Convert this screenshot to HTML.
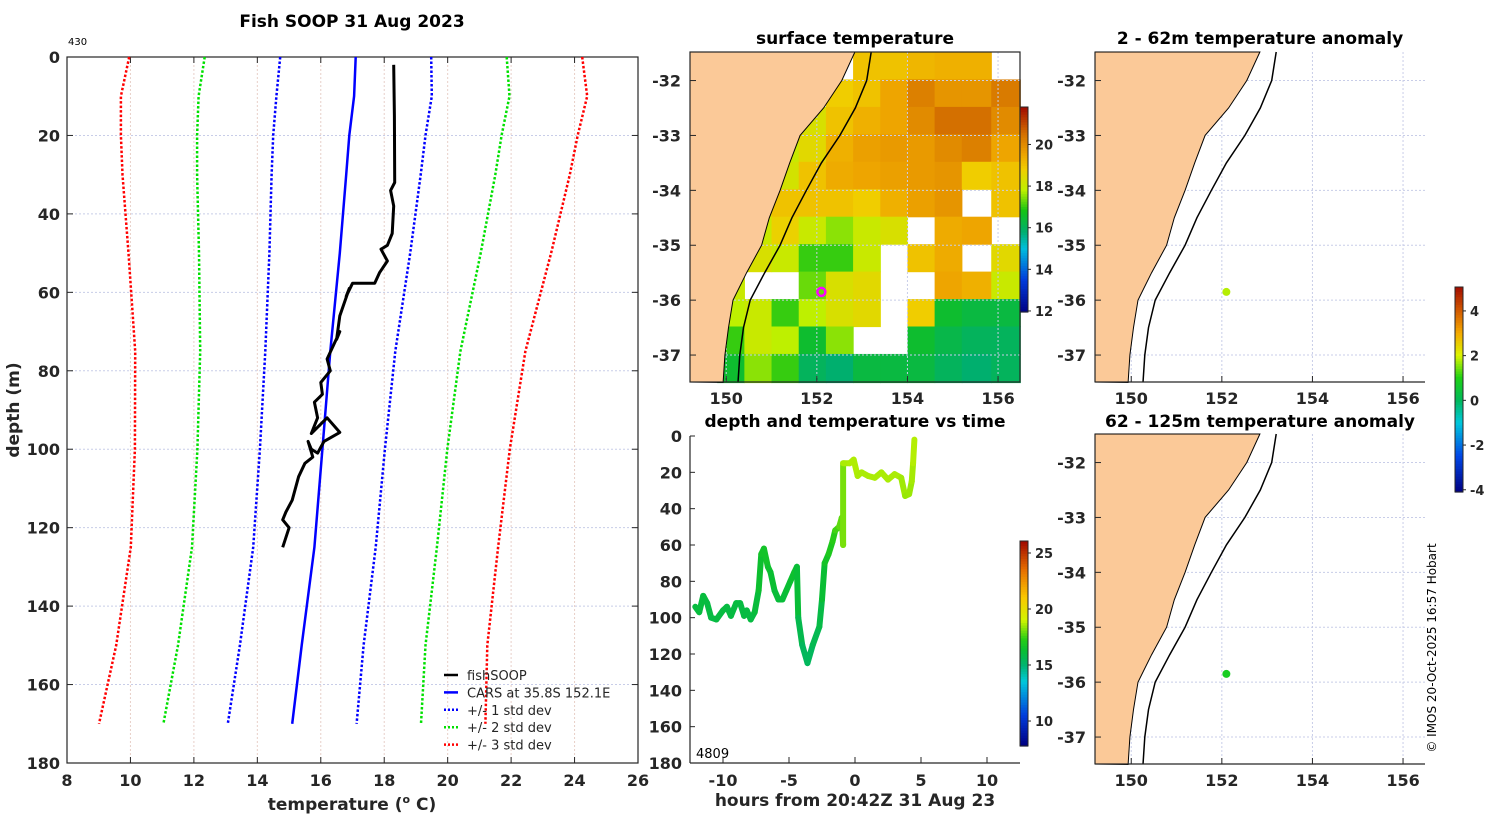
<!DOCTYPE html>
<html><head><meta charset="utf-8"><style>
html,body{margin:0;padding:0;background:#fff;}
svg{display:block;font-family:"DejaVu Sans","Liberation Sans",sans-serif;}
.t{font-weight:bold;fill:#262626;}
</style></head><body>
<svg id="fig" width="1500" height="820" viewBox="0 0 1500 820" xmlns="http://www.w3.org/2000/svg">
<text x="352" y="27" text-anchor="middle" font-size="17" font-weight="bold">Fish SOOP 31 Aug 2023</text>
<text x="68" y="45" font-size="10">430</text>
<text x="855" y="44" text-anchor="middle" font-size="17" font-weight="bold">surface temperature</text>
<text x="855" y="427" text-anchor="middle" font-size="17" font-weight="bold">depth and temperature vs time</text>
<text x="1260" y="44" text-anchor="middle" font-size="17" font-weight="bold">2 - 62m temperature anomaly</text>
<text x="1260" y="427" text-anchor="middle" font-size="17" font-weight="bold">62 - 125m temperature anomaly</text>
<text class="t" x="352" y="810" text-anchor="middle" font-size="17">temperature (<tspan font-size="11" dy="-7">o</tspan><tspan dy="7"> C)</tspan></text>
<text class="t" x="0" y="0" text-anchor="middle" font-size="17" transform="translate(19,410) rotate(-90)">depth (m)</text>
<text class="t" x="855" y="806" text-anchor="middle" font-size="17">hours from 20:42Z 31 Aug 23</text>
<text x="696" y="758" font-size="13">4809</text>
<text x="0" y="0" text-anchor="middle" font-size="12" transform="translate(1436,648) rotate(-90)">© IMOS 20-Oct-2025 16:57 Hobart</text>
</svg>
<script>
// ---------- data ----------
const carsDepth=[0,10,20,30,50,75,100,125,150,170];
const carsTemp=[17.1,17.05,16.9,16.8,16.6,16.3,16.05,15.8,15.4,15.1];
const carsSd=[2.38,2.45,2.4,2.35,2.22,2.05,1.97,1.93,1.95,2.03];
const fishTemp=[18.3,18.32,18.33,18.2,18.3,18.25,18.1,17.9,18.1,17.85,17.7,17.0,16.8,16.9,16.6,16.5,16.6,16.2,16.3,16.0,16.05,15.8,15.9,15.7,16.2,16.6,16.1,15.9,15.7,15.6,15.75,15.5,15.3,15.1,14.9,14.8,15.0,14.8];
const fishDepth=[2,15,32,34,38,45,48,49,52,55,57.7,57.7,61,59,66,72,70,77,80,83,86,88,92,96,92,95.7,98,101,100,98,102,103.6,107,113,116,118,120,125];
const hours=[-12.1,-11.8,-11.5,-11.2,-10.9,-10.5,-10.0,-9.7,-9.4,-9.0,-8.7,-8.4,-8.2,-7.9,-7.6,-7.3,-7.1,-6.9,-6.6,-6.4,-6.1,-5.8,-5.5,-5.2,-4.9,-4.6,-4.4,-4.3,-4.0,-3.6,-3.2,-2.7,-2.5,-2.3,-2.0,-1.7,-1.5,-1.2,-1.0,-0.9,-0.9,-0.8,-0.4,-0.1,0.2,0.5,1.0,1.5,2.0,2.5,3.0,3.5,3.8,4.1,4.3,4.4,4.5];
const tsDepth=[94,97,88,92,100,101,96,94,99,92,92,99,96,101,97,85,65,62,72,75,85,90,90,85,80,75,72,100,115,125,115,105,90,70,65,58,52,50,45,60,15,15,15,13,22,20,22,23,20,24,21,23,33,32,25,15,2];
const tsTemp=[16.0,16.0,16.1,16.0,15.9,15.9,16.0,16.0,15.9,16.0,16.0,15.9,16.0,15.9,16.0,16.2,16.6,16.7,16.5,16.4,16.2,16.1,16.1,16.2,16.3,16.4,16.5,15.9,15.5,15.3,15.5,15.7,16.0,16.5,16.8,17.1,17.4,17.7,18.0,17.6,18.6,18.6,18.6,18.7,18.6,18.6,18.6,18.6,18.6,18.6,18.6,18.6,18.4,18.4,18.5,18.6,18.8];
const sstLon=[149.5,150.1,150.7,151.3,151.9,152.5,153.1,153.7,154.3,154.9,155.5,156.2];
const sstLat=[-31.73,-32.23,-32.73,-33.23,-33.73,-34.23,-34.73,-35.23,-35.73,-36.23,-36.73,-37.23];
const sstRow0=[null,null,null,null,null,null,19,19,19.2,19.3,19.3,null];
const sstRow1=[null,null,null,null,null,18.8,19,19.5,20.2,19.8,19.8,20.3];
const sstRow2=[null,null,null,null,18.3,19,19.3,19.5,20,20.5,20.5,20];
const sstRow3=[null,null,null,18,18.5,19.3,19.6,19.7,19.7,20,20.2,19.5];
const sstRow4=[null,null,null,18.2,19,19.4,19.5,19.6,19.7,19.8,18.8,19];
const sstRow5=[null,null,18.3,19,19,19,18.8,19.3,19.6,19.8,null,19];
const sstRow6=[null,null,18,18.7,18,17.5,18,18.3,null,19.4,19.5,null];
const sstRow7=[null,17.8,18.3,18,17,17,18,null,19,19.4,null,18.5];
const sstRow8=[null,18,null,null,17.3,18.3,18.5,null,null,19.5,19.3,18];
const sstRow9=[null,17.8,18,17,17.8,18.3,18.5,null,18.8,16.5,16.3,16.3];
const sstRow10=[null,17,18,17.8,16.5,17.5,null,null,16.5,16.2,16,16];
const sstRow11=[null,16.5,17.5,17,16,15.8,16.3,16.3,16.3,16,15.8,16];
const sstRows=[sstRow0,sstRow1,sstRow2,sstRow3,sstRow4,sstRow5,sstRow6,sstRow7,sstRow8,sstRow9,sstRow10,sstRow11];
const coastLat=[-31.48,-32,-32.5,-33,-33.5,-34,-34.5,-35,-35.5,-36,-36.5,-37,-37.5];
const coastLon=[152.84,152.55,152.15,151.63,151.4,151.19,150.95,150.78,150.45,150.15,150.05,149.97,149.93];
const isoLon=[153.2,153.1,152.85,152.51,152.1,151.77,151.45,151.19,150.85,150.53,150.38,150.3,150.26];
const station=[152.1,-35.85];
const anomShallow=1.8, anomDeep=0.8;
const depthTicks=[0,20,40,60,80,100,120,140,160,180];
const tempTicks=[8,10,12,14,16,18,20,22,24,26];
const lonTicks=[150,152,154,156];
const latTicks=[-32,-33,-34,-35,-36,-37];
const hourTicks=[-10,-5,0,5,10];
const sstCbTicks=[12,14,16,18,20];
const tsCbTicks=[10,15,20,25];
const anomCbTicks=[-4,-2,0,2,4];

// ---------- helpers ----------
const NS="http://www.w3.org/2000/svg";
const svg=document.getElementById('fig');
function mk(tag,attrs,parent){const e=document.createElementNS(NS,tag);for(const k in attrs)e.setAttribute(k,attrs[k]);(parent||svg).appendChild(e);return e;}
function lerpStops(stops,v){
  if(v<=stops[0][0])return 'rgb('+stops[0][1].join(',')+')';
  for(let i=1;i<stops.length;i++){if(v<=stops[i][0]){const a=stops[i-1],b=stops[i];const f=(v-a[0])/(b[0]-a[0]);
    return 'rgb('+[0,1,2].map(j=>Math.round(a[1][j]+(b[1][j]-a[1][j])*f)).join(',')+')';}}
  return 'rgb('+stops[stops.length-1][1].join(',')+')';
}
const sstStops=[[11.9,[0,0,130]],[13.5,[0,60,220]],[15,[0,190,220]],[15.8,[0,175,110]],[16.8,[20,195,20]],[17.8,[190,240,0]],[18.8,[240,205,0]],[19.5,[238,165,0]],[20.5,[212,112,0]],[21.8,[160,10,0]]];
const tsStops=[[7.8,[0,0,130]],[10.5,[0,60,220]],[13.5,[0,200,220]],[15,[0,180,110]],[16.3,[10,190,50]],[17.3,[40,205,20]],[19,[210,245,0]],[21,[250,200,0]],[23.5,[230,110,0]],[26,[160,10,0]]];
const anStops=[[-4.1,[0,0,130]],[-2.5,[0,70,230]],[-1,[0,200,220]],[0,[0,185,90]],[1,[30,210,20]],[2,[220,245,0]],[3,[245,170,0]],[4,[210,90,0]],[5.1,[160,10,0]]];

// ---------- profile panel ----------
const px=T=>67+(T-8)*(571/18), py=d=>57+d*(706/180);
const g1=mk('g',{});


depthTicks.forEach(d=>{const l=mk('line',{x1:67,x2:638,y1:py(d),y2:py(d),stroke:'#c8cde8','stroke-dasharray':'2,2','stroke-width':1},g1);


const t=mk('text',{x:60,y:py(d)+6,'text-anchor':'end','font-size':16,class:'t'},g1);t.textContent=d;


mk('line',{x1:67,x2:73,y1:py(d),y2:py(d),stroke:'#262626'},g1);mk('line',{x1:632,x2:638,y1:py(d),y2:py(d),stroke:'#262626'},g1);});
tempTicks.forEach(T=>{const l=mk('line',{x1:px(T),x2:px(T),y1:57,y2:763,stroke:'#e8cfc8','stroke-dasharray':'2,2','stroke-width':1},g1);


const t=mk('text',{x:px(T),y:786,'text-anchor':'middle','font-size':16,class:'t'},g1);t.textContent=T;


mk('line',{x1:px(T),x2:px(T),y1:757,y2:763,stroke:'#262626'},g1);mk('line',{x1:px(T),x2:px(T),y1:57,y2:63,stroke:'#262626'},g1);});
const frame1=mk('rect',{x:67,y:57,width:571,height:706,fill:'none',stroke:'#262626','stroke-width':1.2},g1);


function sdLine(k,color,name){
  const pts=carsDepth.map((d,i)=>px(carsTemp[i]+k*carsSd[i]).toFixed(1)+','+py(d).toFixed(1)).join(' ');
  const p=mk('polyline',{points:pts,fill:'none',stroke:color,'stroke-width':2.5,'stroke-dasharray':'2.5,2'},g1);
  
  
}
sdLine(-3,'#ff0000','minus-3-std-line');sdLine(3,'#ff0000','plus-3-std-line');
sdLine(-2,'#00e000','minus-2-std-line');sdLine(2,'#00e000','plus-2-std-line');
sdLine(-1,'#0000ff','minus-1-std-line');sdLine(1,'#0000ff','plus-1-std-line');
const cars=mk('polyline',{points:carsDepth.map((d,i)=>px(carsTemp[i]).toFixed(1)+','+py(d).toFixed(1)).join(' '),fill:'none',stroke:'#0000ff','stroke-width':2.5},g1);


const fish=mk('polyline',{points:fishDepth.map((d,i)=>px(fishTemp[i]).toFixed(1)+','+py(d).toFixed(1)).join(' '),fill:'none',stroke:'#000','stroke-width':3,'stroke-linejoin':'round'},g1);


// legend
const leg=mk('g',{},g1);


const legItems=[['fishSOOP','#000',''],['CARS at 35.8S 152.1E','#0000ff',''],['+/- 1 std dev','#0000ff','2,2'],['+/- 2 std dev','#00e000','2,2'],['+/- 3 std dev','#ff0000','2,2']];
legItems.forEach((it,i)=>{const y=675+i*17.4;
 mk('line',{x1:444,x2:458,y1:y,y2:y,stroke:it[1],'stroke-width':2.5,'stroke-dasharray':it[2]||'none'},leg);
 const t=mk('text',{x:467,y:y+5,'font-size':13,fill:'#262626'},leg);t.textContent=it[0];
 
 });

// ---------- map helpers ----------
function mapPanel(ox,oy,name){
  const lx=l=>ox+(l-149.2)*45.3, ly=a=>oy+(-31.48-a)*54.9;
  const g=mk('g',{});
  
  
  return {g,lx,ly};
}
function mapDecor(m,ox,oy,box){
  const {g,lx,ly}=m;
  lonTicks.forEach(l=>{mk('line',{x1:lx(l),x2:lx(l),y1:oy,y2:oy+330,stroke:'#c8cde8','stroke-dasharray':'2,2'},g);});
  latTicks.forEach(a=>{mk('line',{x1:ox,x2:ox+330,y1:ly(a),y2:ly(a),stroke:'#c8cde8','stroke-dasharray':'2,2'},g);});
  const land='M'+ox+','+oy+' '+coastLat.map((a,i)=>'L'+lx(coastLon[i]).toFixed(1)+','+ly(a).toFixed(1)).join(' ')+' L'+ox+','+(oy+330)+' Z';
  const lp=mk('path',{d:land,fill:'#fbc998',stroke:'#000','stroke-width':1},g);
  
  
  const iso=mk('polyline',{points:coastLat.map((a,i)=>lx(isoLon[i]).toFixed(1)+','+ly(a).toFixed(1)).join(' '),fill:'none',stroke:'#000','stroke-width':1.5},g);
  
  
  if(box){mk('rect',{x:ox,y:oy,width:330,height:330,fill:'none',stroke:'#262626','stroke-width':1.2},g);}
  else{mk('line',{x1:ox,x2:ox,y1:oy,y2:oy+330,stroke:'#262626','stroke-width':1.2},g);mk('line',{x1:ox,x2:ox+330,y1:oy+330,y2:oy+330,stroke:'#262626','stroke-width':1.2},g);}
  lonTicks.forEach(l=>{mk('line',{x1:lx(l),x2:lx(l),y1:oy+324,y2:oy+330,stroke:'#262626'},g);
   const t=mk('text',{x:lx(l),y:oy+352,'text-anchor':'middle','font-size':16,class:'t'},g);t.textContent=l;
   
   });
  latTicks.forEach(a=>{mk('line',{x1:ox,x2:ox+6,y1:ly(a),y2:ly(a),stroke:'#262626'},g);
   const t=mk('text',{x:ox-9,y:ly(a)+6,'text-anchor':'end','font-size':16,class:'t'},g);t.textContent=a;
   
   });
}
function colorbar(x,y0,y1,vTop,vBot,stops,ticks,name){
  const g=mk('g',{});
  
  
  const n=80,h=(y1-y0)/n;
  for(let i=0;i<n;i++){const v=vTop+(vBot-vTop)*(i+0.5)/n;mk('rect',{x:x,y:y0+i*h,width:8,height:h+0.6,fill:lerpStops(stops,v)},g);}
  mk('rect',{x:x,y:y0,width:8,height:y1-y0,fill:'none',stroke:'#262626'},g);
  ticks.forEach(v=>{const y=y0+(vTop-v)/(vTop-vBot)*(y1-y0);
   mk('line',{x1:x+8,x2:x+11,y1:y,y2:y,stroke:'#262626'},g);
   const t=mk('text',{x:x+15,y:y+5,'font-size':13,class:'t'},g);t.textContent=v;
   
   });
}

// ---------- SST map ----------
const m1=mapPanel(690,52,'sst-map');
function edges(c,lo,hi){const e=[lo];for(let i=1;i<c.length;i++)e.push((c[i-1]+c[i])/2);e.push(hi);return e;}
const lonE=edges(sstLon,149.2,156.49), latE=edges(sstLat,-31.48,-37.5);
sstRows.forEach((row,r)=>row.forEach((v,c)=>{if(v===null)return;
  const x0=m1.lx(lonE[c]),x1=m1.lx(lonE[c+1]),y0=m1.ly(latE[r]),y1=m1.ly(latE[r+1]);
  const cell=mk('rect',{x:x0,y:y0,width:x1-x0+0.6,height:y1-y0+0.6,fill:lerpStops(sstStops,v)},m1.g);
  
  }));
mapDecor(m1,690,52,true);
const st=mk('circle',{cx:m1.lx(station[0]),cy:m1.ly(station[1]),r:4,fill:'none',stroke:'#ff00ff','stroke-width':2.5},m1.g);


colorbar(1020,107,312,21.8,11.95,sstStops,sstCbTicks,'sst-colorbar');

// ---------- time series ----------
const hx=h=>855+h*13.2, dy=d=>436+d*(327/180);
const g3=mk('g',{});


mk('line',{x1:690,x2:690,y1:436,y2:763,stroke:'#262626','stroke-width':1.2},g3);
mk('line',{x1:690,x2:1020,y1:763,y2:763,stroke:'#262626','stroke-width':1.2},g3);
depthTicks.forEach(d=>{mk('line',{x1:690,x2:695,y1:dy(d),y2:dy(d),stroke:'#262626'},g3);
 const t=mk('text',{x:682,y:dy(d)+6,'text-anchor':'end','font-size':16,class:'t'},g3);t.textContent=d;
 
 });
hourTicks.forEach(h=>{mk('line',{x1:hx(h),x2:hx(h),y1:757,y2:763,stroke:'#262626'},g3);
 const t=mk('text',{x:hx(h),y:786,'text-anchor':'middle','font-size':16,class:'t'},g3);t.textContent=h;
 
 });
for(let i=1;i<hours.length;i++){
 const s=mk('line',{x1:hx(hours[i-1]),y1:dy(tsDepth[i-1]),x2:hx(hours[i]),y2:dy(tsDepth[i]),stroke:lerpStops(tsStops,(tsTemp[i]+tsTemp[i-1])/2),'stroke-width':6,'stroke-linecap':'round'},g3);
 
 
}
colorbar(1020,541,746,26.07,7.77,tsStops,tsCbTicks,'ts-colorbar');

// ---------- anomaly maps ----------
const m2=mapPanel(1095,52,'anomaly-shallow-map');
mapDecor(m2,1095,52,false);
const d2=mk('circle',{cx:m2.lx(station[0]),cy:m2.ly(station[1]),r:4,fill:lerpStops(anStops,anomShallow)},m2.g);


const m3=mapPanel(1095,434,'anomaly-deep-map');
mapDecor(m3,1095,434,false);
const d3=mk('circle',{cx:m3.lx(station[0]),cy:m3.ly(station[1]),r:4,fill:lerpStops(anStops,anomDeep)},m3.g);


colorbar(1455,287,492,5.07,-4.1,anStops,anomCbTicks,'anomaly-colorbar');
</script>
</body></html>
